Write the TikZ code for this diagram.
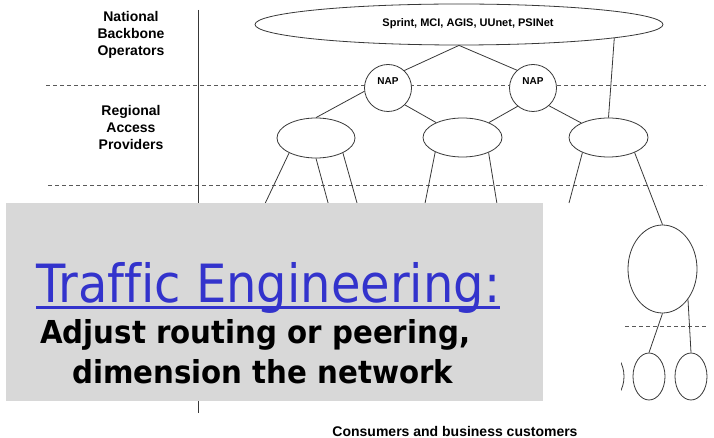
\documentclass[tikz,border=0pt]{standalone}
\usepackage{graphicx}
\usepackage{fontspec}
\setmainfont{Liberation Sans}
\newfontfamily\tahoma[Ligatures=CommonOff]{DejaVu Sans}
\usetikzlibrary{shapes.geometric}
\definecolor{tblue}{RGB}{51,51,204}
\definecolor{boxgray}{RGB}{216,216,216}
\tikzset{
  ln/.style={draw=black!78, line width=0.8pt},
  dln/.style={draw=black!65, line width=0.8pt, dash pattern=on 4pt off 3pt},
  ell/.style={ellipse, ln, fill=white, inner sep=0pt},
  napc/.style={circle, ln, fill=white, inner sep=0pt, minimum size=47pt},
  lbl/.style={align=center, inner sep=0pt, font=\bfseries\fontsize{14}{17}\selectfont},
  smalltxt/.style={inner sep=0pt, anchor=base},
}
\begin{document}
\begin{tikzpicture}[x=1pt,y=-1pt]
\useasboundingbox (0,0) rectangle (714,438);
% dashed separators and vertical axis
\coordinate (d1a) at (46,85);  \coordinate (d1b) at (706,85);
\coordinate (d2a) at (48,185); \coordinate (d2b) at (706,185);
\coordinate (d3a) at (625,326); \coordinate (d3b) at (706,326);
\draw[dln] (d1a) -- (d1b);
\draw[dln] (d2a) -- (d2b);
\draw[dln] (d3a) -- (d3b);
\coordinate (va) at (198,10); \coordinate (vb) at (198,413);
\draw[ln] (va) -- (vb);
% left labels
\node[lbl] (lnat) at (131,35) {National\\Backbone\\Operators};
\node[lbl] (lreg) at (131,127) {Regional\\Access\\Providers};
% backbone
\node[ell, minimum width=408pt, minimum height=41pt] (B) at (459,24.5) {};
\node[smalltxt, font=\bfseries\fontsize{11}{13}\selectfont] (btxt) at (468,26.5) {Sprint, MCI, AGIS, UUnet, PSINet};
% NAPs
\node[napc] (n1) at (388,88) {};
\node[napc] (n2) at (533,88) {};
\node[smalltxt, font=\bfseries\fontsize{10}{12}\selectfont] (n1t) at (388,85) {NAP};
\node[smalltxt, font=\bfseries\fontsize{10}{12}\selectfont] (n2t) at (533,85) {NAP};
% regional
\node[ell, minimum width=78pt, minimum height=40pt] (L) at (316,138) {};
\node[ell, minimum width=79pt, minimum height=39pt] (M) at (462.5,137.5) {};
\node[ell, minimum width=79pt, minimum height=39pt] (R) at (608.5,137.5) {};
% lower right
\node[ell, minimum width=69pt, minimum height=88pt] (BE) at (662.5,269) {};
\node[ell, minimum width=32pt, minimum height=47pt] (S1) at (649,376.5) {};
\node[ell, minimum width=32pt, minimum height=47pt] (S2) at (691,376.5) {};
\begin{scope}
  \clip (621,340) rectangle (630,410);
  \draw[ln] (608,376.5) ellipse [x radius=16, y radius=23.5];
\end{scope}
% connectors
\draw[ln] (B.south) -- (n1.47);
\draw[ln] (B.south) -- (n2.132);
\draw[ln] (B.-5.6) -- (R.north);
\draw[ln] (n1.188) -- (L.north);
\draw[ln] (n1.-45) -- (M);
\draw[ln] (n2.230) -- (M);
\draw[ln] (n2.-48) -- (R);
\coordinate (e1) at (262,210); \coordinate (e2) at (330,210); \coordinate (e3) at (359,210);
\coordinate (e4) at (423.7,210); \coordinate (e5) at (498,210); \coordinate (e6) at (569,203);
\draw[ln] (L.209) -- (e1);
\draw[ln] (L.270) -- (e2);
\draw[ln] (L.331) -- (e3);
\draw[ln] (M.208.5) -- (e4);
\draw[ln] (M.330.6) -- (e5);
\draw[ln] (R.210) -- (e6);
\draw[ln] (R.330) -- (BE.north);
\draw[ln] (BE.south) -- (S1.north);
\draw[ln] (BE.-50) -- (S2.north);
% bottom caption
\node[smalltxt, font=\bfseries\fontsize{14}{17}\selectfont] (cons) at (455,436) {Consumers and business customers};
% overlay box
\node[draw=none, fill=boxgray, inner sep=0pt, minimum width=537pt, minimum height=198pt, anchor=north west] (box) at (6,203) {};
\node[anchor=base west, inner sep=0pt, text=tblue, font=\tahoma\fontsize{52.7}{60}\selectfont] (title) at (36,302) {\scalebox{0.91}[1]{Traffic Engineering:}};
\draw[tblue, line width=3pt] ([yshift=-5pt]title.base west) -- ([yshift=-5pt]title.base east);
\node[anchor=base west, inner sep=0pt, font=\tahoma\bfseries\fontsize{31.6}{38}\selectfont] (t1) at (40,343) {\scalebox{0.926}[1]{Adjust routing or peering,}};
\node[anchor=base west, inner sep=0pt, font=\tahoma\bfseries\fontsize{31.6}{38}\selectfont] (t2) at (72,383) {\scalebox{0.926}[1]{dimension the network}};
\end{tikzpicture}
\end{document}
